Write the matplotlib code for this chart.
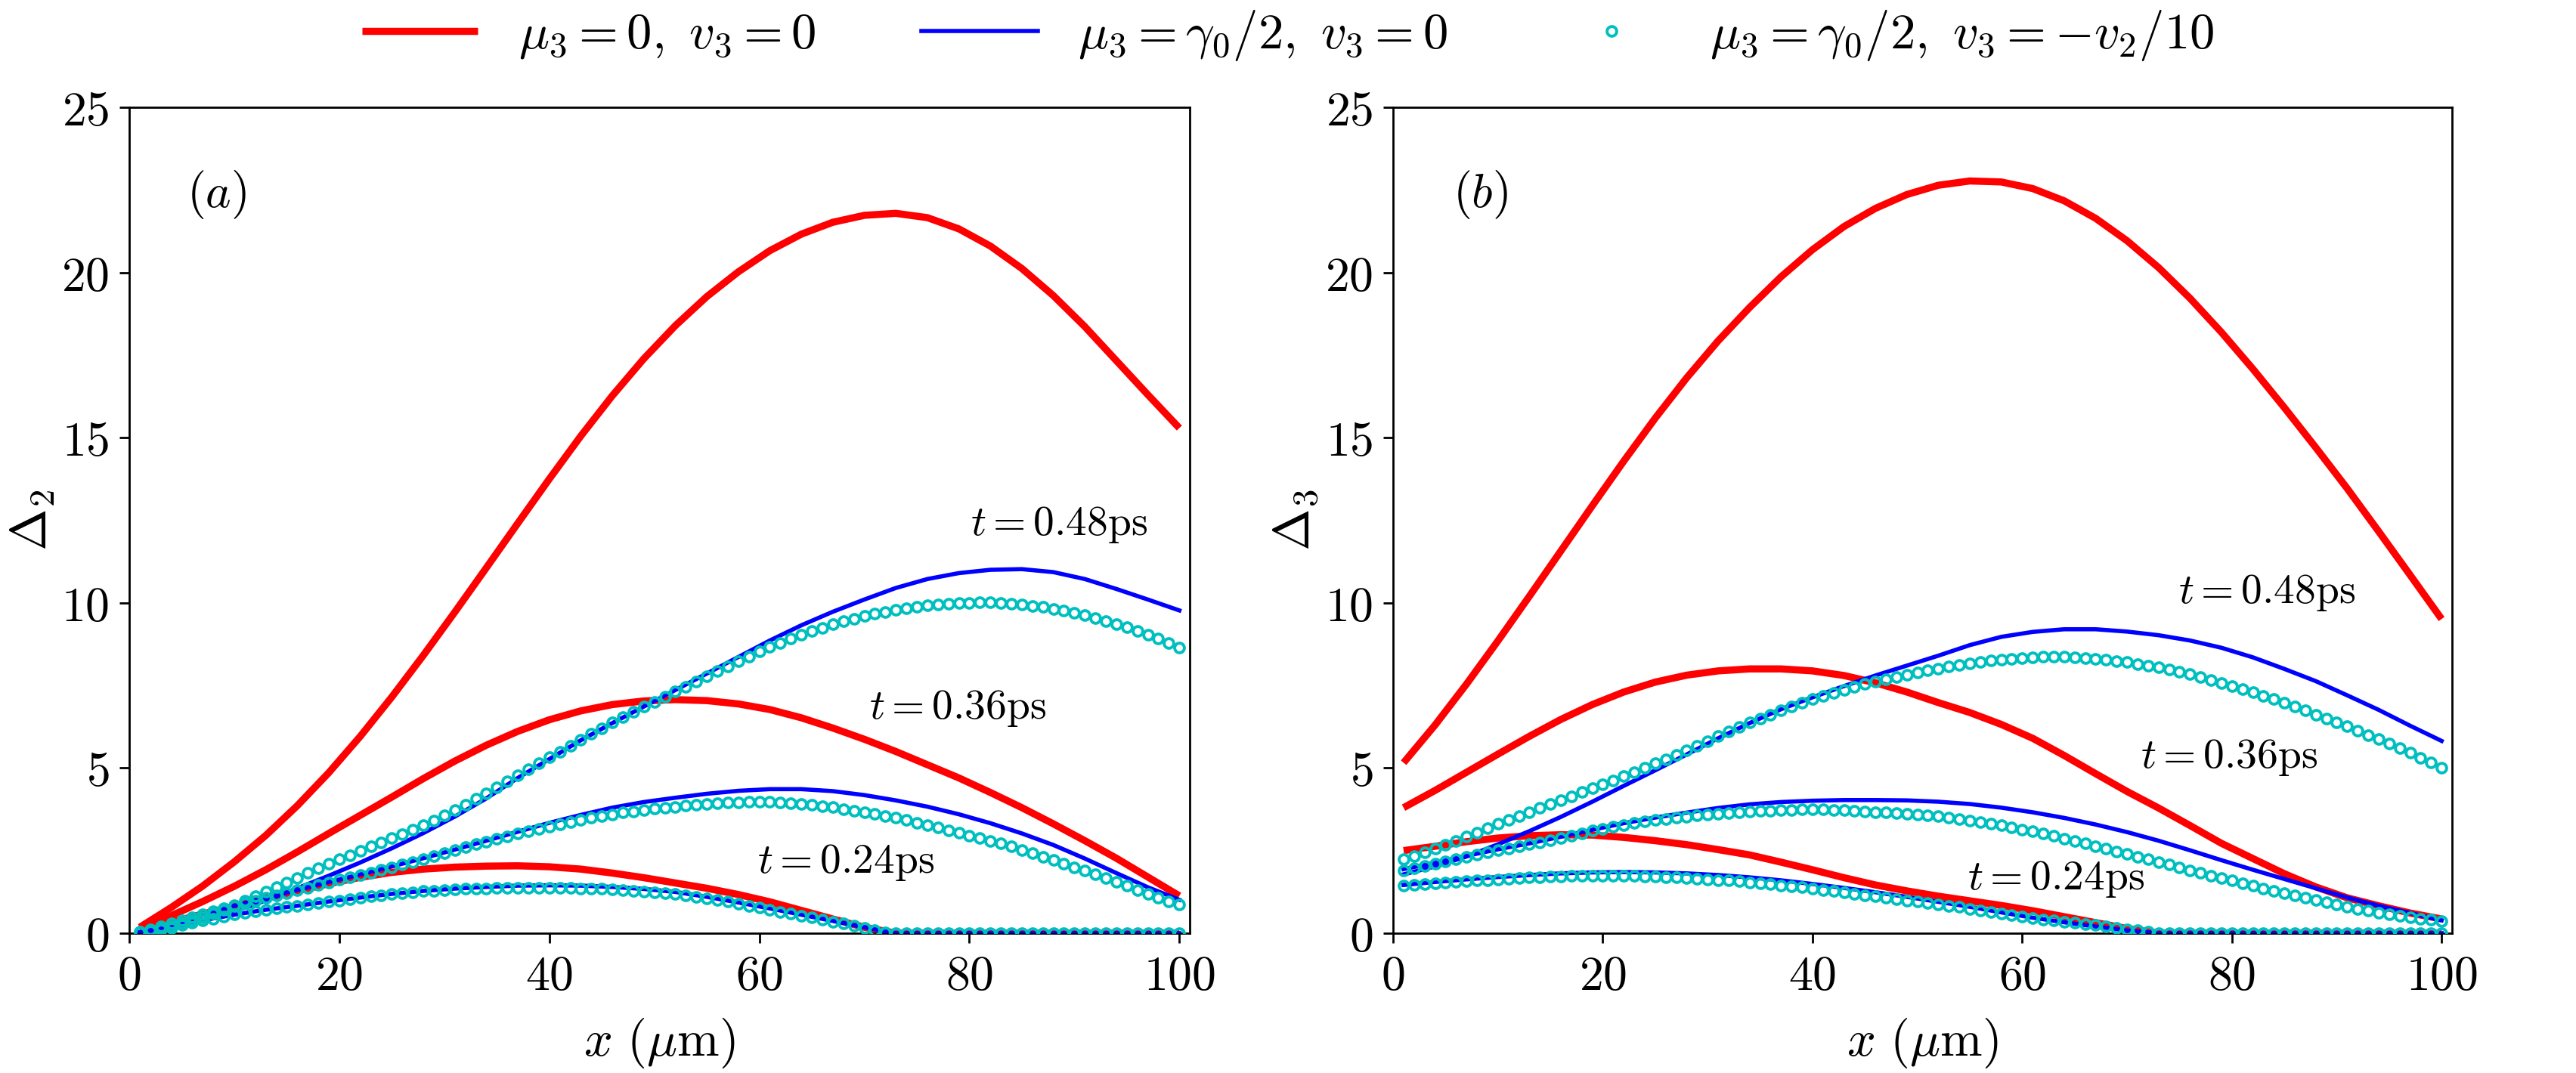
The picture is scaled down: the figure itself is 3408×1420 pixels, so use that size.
import numpy as np
import matplotlib
matplotlib.use("Agg")
import matplotlib.pyplot as plt
from matplotlib.ticker import FuncFormatter, MultipleLocator

plt.rcParams['mathtext.fontset'] = 'cm'
plt.rcParams['font.family'] = ['DejaVu Serif']

# ---------------- data ----------------
x_line = list(range(1, 101, 3))      # 1, 4, ..., 100
x_mark = list(range(1, 101))         # 1 .. 100

# panel (a): Delta_2
a_red_048 = [0.18,0.78,1.43,2.16,2.96,3.86,4.86,5.96,7.15,8.41,9.72,11.06,12.41,13.75,15.05,16.27,17.39,
             18.39,19.27,20.02,20.66,21.16,21.52,21.73,21.79,21.66,21.32,20.8,20.12,19.3,18.36,17.33,16.3,15.29]
a_red_036 = [0.12,0.53,0.96,1.42,1.92,2.46,3.02,3.57,4.12,4.68,5.21,5.69,6.11,6.46,6.73,6.92,7.03,
             7.07,7.04,6.94,6.77,6.52,6.21,5.87,5.5,5.1,4.7,4.26,3.8,3.31,2.8,2.27,1.7,1.13]
a_red_024 = [0.08,0.33,0.58,0.82,1.06,1.28,1.5,1.69,1.84,1.94,2.0,2.03,2.04,2.01,1.94,1.82,1.68,
             1.52,1.36,1.17,0.95,0.69,0.43,0.18,0,0,0,0,0,0,0,0,0,0]
a_blue_048 = [0.02,0.15,0.38,0.66,0.99,1.36,1.74,2.14,2.57,3.03,3.53,4.08,4.7,5.27,5.84,6.36,6.86,
              7.36,7.86,8.36,8.86,9.32,9.73,10.1,10.45,10.72,10.9,11.0,11.02,10.93,10.72,10.42,10.1,9.77]
a_blue_036 = [0.03,0.25,0.55,0.83,1.07,1.31,1.55,1.78,2.02,2.27,2.53,2.8,3.07,3.34,3.58,3.8,3.97,
              4.1,4.22,4.31,4.36,4.36,4.3,4.18,4.02,3.83,3.6,3.33,3.02,2.67,2.26,1.82,1.39,1.01]
a_blue_024 = [0.02,0.2,0.39,0.56,0.71,0.83,0.96,1.08,1.19,1.28,1.35,1.4,1.44,1.45,1.44,1.4,1.34,
              1.25,1.1,0.93,0.75,0.56,0.37,0.18,0,0,0,0,0,0,0,0,0,0]
a_cyan_048 = [0.03,0.08,0.14,0.21,0.29,0.38,0.48,0.59,0.71,0.84,
              0.98,1.12,1.26,1.4,1.54,1.68,1.82,1.96,2.1,2.23,
              2.36,2.49,2.62,2.75,2.88,3.0,3.13,3.27,3.41,3.56,
              3.72,3.89,4.06,4.24,4.42,4.6,4.78,4.96,5.14,5.32,
              5.5,5.68,5.86,6.03,6.2,6.37,6.53,6.69,6.85,7.01,
              7.16,7.31,7.46,7.61,7.77,7.93,8.08,8.23,8.38,8.52,
              8.66,8.79,8.91,9.03,9.14,9.25,9.35,9.44,9.52,9.6,
              9.67,9.73,9.79,9.84,9.88,9.92,9.95,9.97,9.99,10.0,
              10.01,10.01,10.0,9.98,9.95,9.91,9.87,9.82,9.76,9.69,
              9.62,9.54,9.45,9.36,9.26,9.15,9.04,8.92,8.79,8.65]
a_cyan_036 = [0.04,0.12,0.21,0.3,0.39,0.48,0.57,0.66,0.75,0.83,
              0.91,0.99,1.07,1.15,1.22,1.3,1.38,1.46,1.54,1.62,
              1.69,1.77,1.84,1.92,2.0,2.08,2.16,2.25,2.34,2.43,
              2.52,2.6,2.69,2.77,2.85,2.93,3.01,3.09,3.16,3.23,
              3.3,3.37,3.43,3.49,3.55,3.6,3.65,3.69,3.73,3.77,
              3.8,3.83,3.86,3.89,3.91,3.93,3.95,3.96,3.97,3.97,
              3.97,3.96,3.94,3.92,3.89,3.85,3.81,3.76,3.71,3.66,
              3.61,3.55,3.49,3.42,3.35,3.28,3.2,3.12,3.04,2.96,
              2.88,2.8,2.71,2.62,2.52,2.42,2.32,2.22,2.11,2.0,
              1.89,1.78,1.67,1.55,1.43,1.31,1.19,1.07,0.96,0.88]
a_cyan_024 = [0.02,0.06,0.11,0.17,0.24,0.31,0.38,0.44,0.5,0.56,
              0.61,0.66,0.71,0.75,0.79,0.83,0.87,0.91,0.95,0.99,
              1.03,1.07,1.11,1.15,1.18,1.21,1.24,1.27,1.29,1.31,
              1.33,1.34,1.35,1.36,1.37,1.37,1.38,1.38,1.38,1.38,
              1.37,1.37,1.36,1.35,1.34,1.32,1.3,1.28,1.26,1.24,
              1.21,1.18,1.14,1.1,1.05,1.0,0.95,0.89,0.83,0.77,
              0.71,0.65,0.59,0.53,0.47,0.41,0.35,0.29,0.22,0.16,
              0.09,0.03,0,0,0,0,0,0,0,0,
              0,0,0,0,0,0,0,0,0,0,
              0,0,0,0,0,0,0,0,0,0]

# panel (b): Delta_3
b_red_048 = [5.16,6.3,7.54,8.85,10.2,11.57,12.94,14.29,15.59,16.81,17.93,18.94,19.87,20.69,21.39,21.94,
             22.36,22.64,22.77,22.74,22.54,22.17,21.64,20.96,20.15,19.22,18.19,17.08,15.91,14.7,13.46,12.16,10.84,9.51]
b_red_036 = [3.8,4.32,4.87,5.42,5.96,6.47,6.92,7.3,7.6,7.81,7.94,8.0,8.0,7.94,7.8,7.58,7.3,
             6.98,6.68,6.32,5.9,5.38,4.83,4.29,3.79,3.26,2.72,2.26,1.8,1.4,1.07,0.83,0.61,0.43]
b_red_024 = [2.5,2.63,2.77,2.88,2.95,2.98,2.97,2.9,2.8,2.68,2.53,2.37,2.15,1.92,1.68,1.46,1.28,
             1.12,0.98,0.84,0.68,0.5,0.32,0.14,0,0,0,0,0,0,0,0,0,0]
b_blue_048 = [1.78,2.02,2.32,2.69,3.09,3.52,3.98,4.46,4.93,5.41,5.9,6.36,6.78,7.14,7.48,7.8,8.1,
              8.4,8.72,8.97,9.12,9.2,9.2,9.13,9.02,8.86,8.64,8.35,8.0,7.63,7.2,6.76,6.28,5.82]
b_blue_036 = [1.94,2.13,2.34,2.54,2.72,2.92,3.13,3.33,3.5,3.65,3.79,3.9,3.97,4.01,4.03,4.03,4.02,
              3.98,3.91,3.8,3.66,3.49,3.29,3.06,2.8,2.51,2.21,1.92,1.64,1.36,1.08,0.83,0.61,0.39]
b_blue_024 = [1.46,1.55,1.63,1.7,1.76,1.81,1.84,1.85,1.84,1.81,1.76,1.69,1.6,1.49,1.37,1.24,1.1,
              0.95,0.8,0.63,0.47,0.33,0.2,0.08,0,0,0,0,0,0,0,0,0,0]
b_cyan_048 = [2.25,2.34,2.44,2.55,2.67,2.79,2.92,3.05,3.18,3.31,
              3.43,3.55,3.67,3.79,3.91,4.03,4.15,4.27,4.39,4.51,
              4.63,4.75,4.88,5.01,5.14,5.27,5.4,5.54,5.68,5.82,
              5.96,6.1,6.24,6.37,6.5,6.62,6.74,6.86,6.97,7.08,
              7.18,7.28,7.37,7.46,7.54,7.62,7.69,7.76,7.83,7.89,
              7.95,8.01,8.07,8.12,8.17,8.21,8.25,8.28,8.31,8.33,
              8.35,8.36,8.36,8.36,8.35,8.33,8.31,8.28,8.24,8.2,
              8.15,8.1,8.04,7.98,7.91,7.84,7.76,7.67,7.58,7.49,
              7.39,7.29,7.19,7.08,6.97,6.86,6.74,6.62,6.5,6.38,
              6.26,6.13,6.0,5.87,5.74,5.6,5.46,5.31,5.16,5.0]
b_cyan_036 = [1.9,1.96,2.03,2.1,2.17,2.24,2.31,2.38,2.45,2.51,
              2.57,2.63,2.69,2.75,2.82,2.89,2.96,3.03,3.1,3.16,
              3.22,3.28,3.33,3.38,3.42,3.46,3.5,3.53,3.56,3.59,
              3.62,3.64,3.66,3.68,3.7,3.71,3.72,3.73,3.74,3.74,
              3.74,3.73,3.72,3.7,3.69,3.67,3.66,3.64,3.62,3.6,
              3.57,3.54,3.5,3.46,3.41,3.36,3.31,3.26,3.2,3.14,
              3.08,3.01,2.94,2.87,2.8,2.72,2.64,2.56,2.48,2.4,
              2.32,2.23,2.15,2.07,1.99,1.9,1.82,1.74,1.66,1.59,
              1.51,1.43,1.35,1.28,1.21,1.14,1.07,1.0,0.93,0.86,
              0.8,0.74,0.68,0.62,0.57,0.52,0.47,0.43,0.4,0.36]
b_cyan_024 = [1.45,1.47,1.49,1.51,1.53,1.55,1.57,1.59,1.61,1.63,
              1.65,1.67,1.69,1.7,1.71,1.72,1.73,1.74,1.74,1.74,
              1.74,1.74,1.73,1.72,1.71,1.7,1.69,1.67,1.65,1.63,
              1.61,1.59,1.57,1.54,1.51,1.48,1.45,1.42,1.39,1.35,
              1.31,1.27,1.23,1.19,1.15,1.11,1.07,1.03,0.99,0.96,
              0.92,0.88,0.83,0.79,0.74,0.69,0.64,0.6,0.55,0.5,
              0.46,0.42,0.38,0.35,0.31,0.28,0.24,0.2,0.16,0.12,
              0.08,0.04,0,0,0,0,0,0,0,0,
              0,0,0,0,0,0,0,0,0,0,
              0,0,0,0,0,0,0,0,0,0]

legend_labels = [r"$\mu_3=0,\ v_3=0$",
                 r"$\mu_3=\gamma_0/2,\ v_3=0$",
                 r"$\mu_3=\gamma_0/2,\ v_3=-v_2/10$"]
time_labels = [r"$t=0.48\mathrm{ps}$", r"$t=0.36\mathrm{ps}$", r"$t=0.24\mathrm{ps}$"]
panel_labels = [r"$(a)$", r"$(b)$"]
y_labels = [r"$\Delta_2$", r"$\Delta_3$"]
x_label = r"$x\ (\mu\mathrm{m})$"

# ---------------- figure ----------------
fig = plt.figure(figsize=(17.04, 7.1), dpi=200)
ax1 = fig.add_axes([0.0502, 0.1303, 0.4117, 0.7697])
ax2 = fig.add_axes([0.5408, 0.1303, 0.4111, 0.7697])

panels = [
    (ax1, [a_red_048, a_red_036, a_red_024], [a_blue_048, a_blue_036, a_blue_024],
     [a_cyan_048, a_cyan_036, a_cyan_024],
     [(80.1, 12.05), (70.5, 6.5), (59.8, 1.82)]),
    (ax2, [b_red_048, b_red_036, b_red_024], [b_blue_048, b_blue_036, b_blue_024],
     [b_cyan_048, b_cyan_036, b_cyan_024],
     [(74.9, 10.0), (71.3, 5.0), (54.8, 1.32)]),
]

fmt = FuncFormatter(lambda v, p: f"${v:g}$")
handles = None
for i, (ax, reds, blues, cyans, tpos) in enumerate(panels):
    hr = hb = hc = None
    for r in reds:
        hr, = ax.plot(x_line, r, color='r', lw=3.4, solid_capstyle='butt',
                      solid_joinstyle='round', zorder=2)
    for b in blues:
        hb, = ax.plot(x_line, b, color='b', lw=2.0, solid_joinstyle='round', zorder=3)
    for c in cyans:
        hc, = ax.plot(x_mark, c, ls='none', marker='o', ms=4.6, mfc='none', mec='c',
                      mew=1.4, zorder=4)
    if handles is None:
        handles = [hr, hb, hc]
    ax.set_xlim(0, 101)
    ax.set_ylim(0, 25)
    ax.xaxis.set_major_locator(MultipleLocator(20))
    ax.yaxis.set_major_locator(MultipleLocator(5))
    ax.xaxis.set_major_formatter(fmt)
    ax.yaxis.set_major_formatter(fmt)
    ax.tick_params(direction='out', length=4.6, width=1.0, labelsize=23, pad=5)
    for s in ax.spines.values():
        s.set_linewidth(1.0)
    ax.set_xlabel(x_label, fontsize=24, labelpad=8)
    ax.set_ylabel(y_labels[i], fontsize=24, labelpad=2)
    ax.text(8.3, 22.35, panel_labels[i], fontsize=23, ha='center', va='center')
    for (tx, ty), lab in zip(tpos, time_labels):
        ax.text(tx, ty, lab, fontsize=20, ha='left', va='baseline')

fig.legend(handles, legend_labels, loc='center', bbox_to_anchor=(0.5, 0.967), ncol=3,
           frameon=False, fontsize=24, handlelength=2.3, handletextpad=0.8, columnspacing=2.1)

fig.savefig("out.png", dpi=200)
